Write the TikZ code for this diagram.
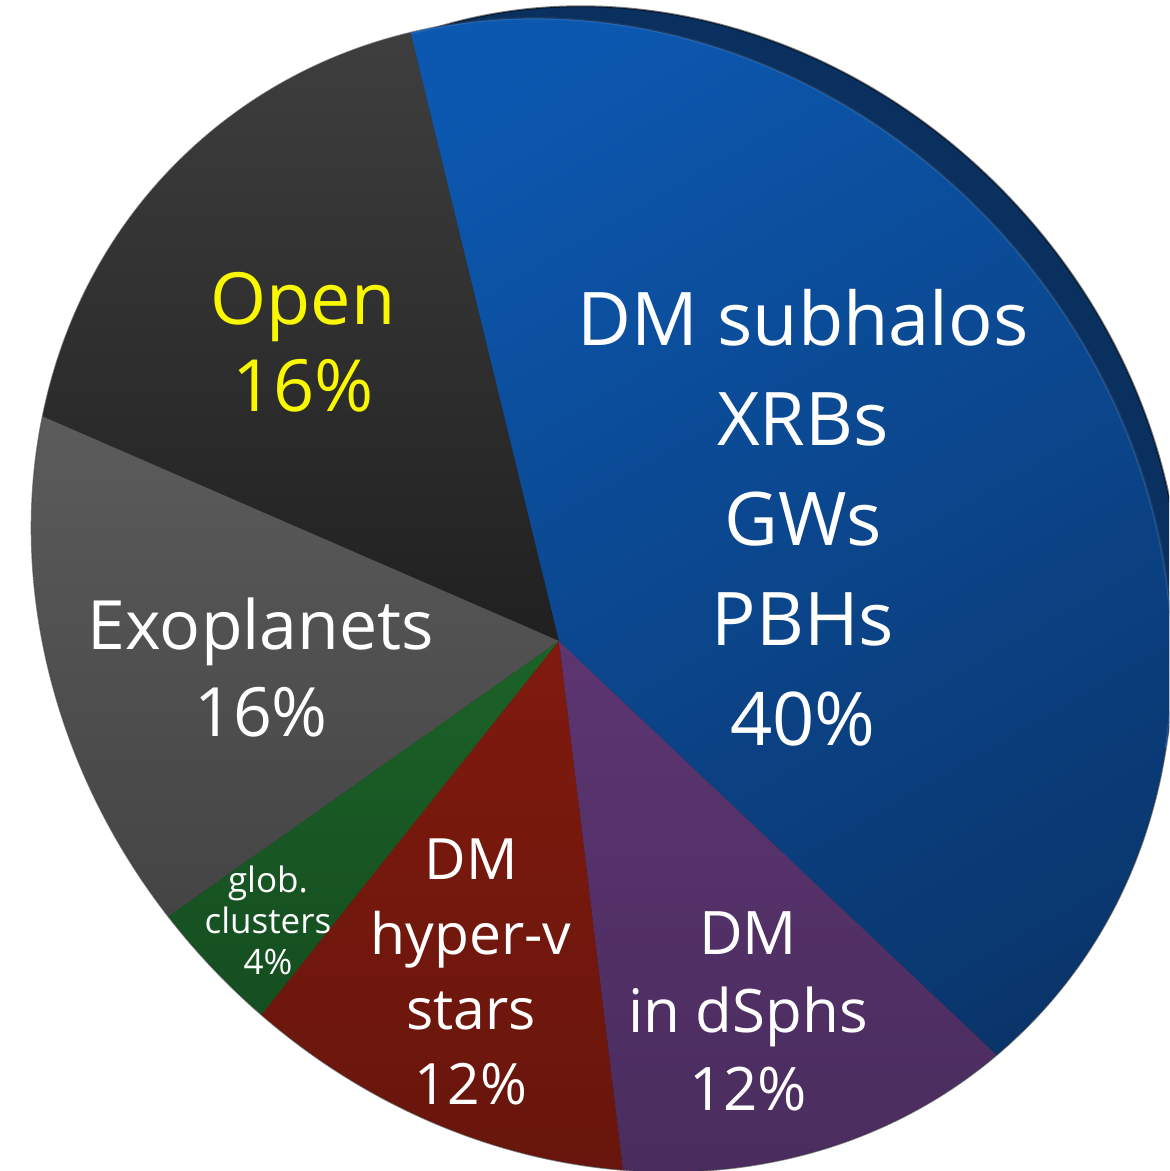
\documentclass[tikz,border=0pt]{standalone}
\usepackage{fontspec}
\setmainfont{Open Sans}
\usetikzlibrary{positioning}
\definecolor{pirim}{RGB}{10,48,95}
\definecolor{pibluet}{RGB}{12,88,176}
\definecolor{piblueb}{RGB}{10,52,105}
\definecolor{pidarkt}{RGB}{66,66,66}
\definecolor{pidarkb}{RGB}{32,32,32}
\definecolor{pigreyt}{RGB}{94,94,94}
\definecolor{pigreyb}{RGB}{62,62,62}
\definecolor{pigreent}{RGB}{28,98,40}
\definecolor{pigreenb}{RGB}{18,68,28}
\definecolor{piredt}{RGB}{128,26,14}
\definecolor{piredb}{RGB}{95,20,12}
\definecolor{piplumt}{RGB}{92,53,113}
\definecolor{piplumb}{RGB}{68,42,88}
\definecolor{openyellow}{RGB}{250,248,0}
\tikzset{face/.style={rotate around={-47.7:(602,576)}},
         rimface/.style={rotate around={-47.7:(647.5,624.4)}},
         piecut/.style={draw=black, draw opacity=0.5, line width=1pt},
         bevel/.style={draw=pibluet!70!white, draw opacity=0.3, line width=1.2pt},
         slicetext/.style={text=white, align=center, inner sep=0pt}}

\begin{document}
\begin{tikzpicture}[x=0.5pt, y=0.5pt]
    \useasboundingbox (0,0) rectangle (1169,1171);
    \clip (0,0) rectangle (1169,1171);
    \fill[white] (0,0) rectangle (1169,1171);

    \coordinate (apex) at (559,530);

    % side of the tilted disc
    \fill[pirim, piecut, rimface] (647.5,624.4) ellipse (569.6 and 502.6);
    \fill[pidarkb, piecut, face] (602,576) ellipse (606 and 539);

    \foreach \from/\to/\topc/\botc/\ang in {103.7/156.5/pidarkt/pidarkb/0,
                                           156.5/215.2/pigreyt/pigreyb/0,
                                           215.2/231.5/pigreent/pigreenb/0,
                                           231.5/276.9/piredt/piredb/0,
                                           276.9/316.6/piplumt/piplumb/0,
                                           -43.4/103.7/pibluet/piblueb/30}
    {
      \begin{scope}
        \clip[face] (602,576) ellipse (606 and 539);
        \shade[top color=\topc, bottom color=\botc, shading angle=\ang]
          (apex) -- ++(\from:700) arc[start angle=\from, end angle=\to, radius=700] -- cycle;
      \end{scope}
    }

    \begin{scope}
      \clip (apex) -- ++(-10:900) arc[start angle=-10, end angle=103.7, radius=900] -- cycle;
      \draw[bevel, face] (602,576) ellipse (606 and 539);
    \end{scope}

    \node[slicetext, text=openyellow, font=\fontsize{36}{43.5}\selectfont] (open) at (303,829) {Open\\16\%};
    \node[slicetext, font=\fontsize{37}{50}\selectfont] (subhalos) at (803,653.5) {DM subhalos\\XRBs\\GWs\\PBHs\\40\%};
    \node[slicetext, font=\fontsize{34}{43.5}\selectfont] (exoplanets) at (261,503.5) {Exoplanets\\16\%};
    \node[slicetext, font=\fontsize{17.5}{20.5}\selectfont] (globclusters) at (268,250.5) {glob.\\clusters\\4\%};
    \node[slicetext, font=\fontsize{28.5}{37.5}\selectfont] (hyperv) at (471,199) {DM\\hyper-v\\stars\\12\%};
    \node[slicetext, font=\fontsize{30}{39}\selectfont] (dsphs) at (748,160) {DM\\in dSphs\\12\%};
  \end{tikzpicture}
\end{document}
